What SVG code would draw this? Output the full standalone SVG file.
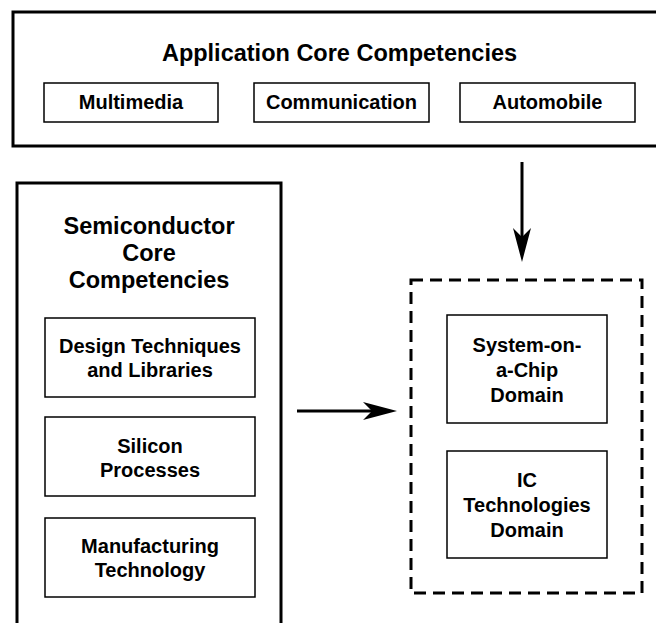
<svg xmlns="http://www.w3.org/2000/svg" width="656" height="623" viewBox="0 0 656 623">
<style>
text{font-family:"Liberation Sans",Arial,Helvetica,sans-serif;font-weight:bold;fill:#000;text-anchor:middle}
.outer{fill:#fff;stroke:#000;stroke-width:3}
.inner{fill:#fff;stroke:#000;stroke-width:1.5}
.dash{fill:none;stroke:#000;stroke-width:3;stroke-dasharray:12 7}
.t1{font-size:23.5px}
.t2{font-size:20px}
.conn{stroke:#000;stroke-width:3;fill:none}
</style>
<defs>
<marker id="ah" markerUnits="userSpaceOnUse" markerWidth="36" markerHeight="20" refX="12" refY="9" orient="auto" viewBox="0 0 36 20">
<path d="M34,9 L0,0 L9,9 L0,18 Z" fill="#000"/>
</marker>
</defs>
<rect width="656" height="623" fill="#fff"/>
<g id="app">
<rect class="outer" x="13" y="12" width="660" height="134"/>
<text class="t1" x="339.5" y="61">Application Core Competencies</text>
</g>
<g id="multimedia">
<rect class="inner" x="44" y="83" width="174" height="39"/>
<text class="t2" x="131" y="109">Multimedia</text>
</g>
<g id="communication">
<rect class="inner" x="254" y="83" width="175" height="39"/>
<text class="t2" x="341.5" y="109">Communication</text>
</g>
<g id="automobile">
<rect class="inner" x="460" y="83" width="175" height="39"/>
<text class="t2" x="547.5" y="109">Automobile</text>
</g>
<g id="semi">
<rect class="outer" x="17" y="183" width="264" height="460"/>
<text class="t1" x="149" y="234">Semiconductor</text>
<text class="t1" x="149" y="261">Core</text>
<text class="t1" x="149" y="288">Competencies</text>
</g>
<g id="design">
<rect class="inner" x="45" y="318" width="210" height="79"/>
<text class="t2" x="150" y="353">Design Techniques</text>
<text class="t2" x="150" y="377">and Libraries</text>
</g>
<g id="silicon">
<rect class="inner" x="45" y="417" width="210" height="79"/>
<text class="t2" x="150" y="453">Silicon</text>
<text class="t2" x="150" y="477">Processes</text>
</g>
<g id="manufacturing">
<rect class="inner" x="45" y="518" width="210" height="79"/>
<text class="t2" x="150" y="553">Manufacturing</text>
<text class="t2" x="150" y="577">Technology</text>
</g>
<g id="domains">
<rect class="dash" x="411" y="280" width="231" height="313"/>
</g>
<g id="soc">
<rect class="inner" x="447" y="315" width="160" height="108"/>
<text class="t2" x="527" y="352">System-on-</text>
<text class="t2" x="527" y="377">a-Chip</text>
<text class="t2" x="527" y="402">Domain</text>
</g>
<g id="ic">
<rect class="inner" x="447" y="451" width="160" height="107"/>
<text class="t2" x="527" y="487">IC</text>
<text class="t2" x="527" y="512">Technologies</text>
<text class="t2" x="527" y="537">Domain</text>
</g>
<g id="connectors">
<line class="conn" x1="522" y1="162" x2="522" y2="240" marker-end="url(#ah)"/>
<line class="conn" x1="297" y1="411" x2="375" y2="411" marker-end="url(#ah)"/>
</g>
</svg>
